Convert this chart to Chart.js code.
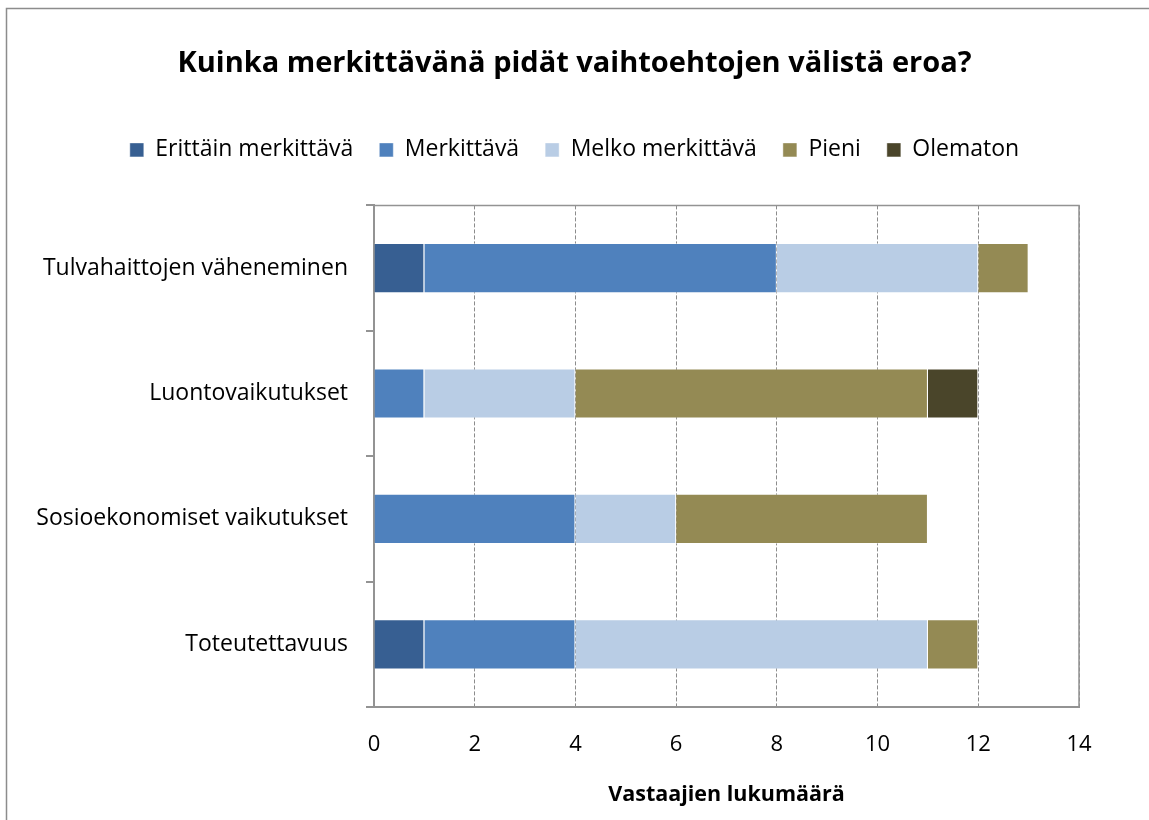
<!DOCTYPE html>
<html><head><meta charset="utf-8">
<script src="https://cdn.jsdelivr.net/npm/chart.js@4/dist/chart.umd.min.js"></script>
<style>html,body{margin:0;padding:0;background:#fff;}#wrap{width:1149px;height:820px;}</style>
</head><body><div id="wrap"><canvas id="c" width="1149" height="820"></canvas></div>
<script>
const categories = ["Tulvahaittojen väheneminen", "Luontovaikutukset", "Sosioekonomiset vaikutukset", "Toteutettavuus"];
const seriesNames = ["Erittäin merkittävä", "Merkittävä", "Melko merkittävä", "Pieni", "Olematon"];
const erittainMerkittava = [1, 0, 0, 1];
const merkittava = [7, 1, 4, 3];
const melkoMerkittava = [4, 3, 2, 7];
const pieni = [1, 7, 5, 1];
const olematon = [0, 1, 0, 0];
const xTicks = [0, 2, 4, 6, 8, 10, 12, 14];
const colors = ["#375F92", "#4F81BD", "#B9CDE5", "#948A54", "#4A452A"];
const FONT = '"Open Sans", "Noto Sans", sans-serif';

const seriesData = [erittainMerkittava, merkittava, melkoMerkittava, pieni, olematon];

const framePlugin = {
  id: 'frame',
  beforeDraw(chart) {
    const ctx = chart.ctx;
    ctx.save();
    ctx.fillStyle = '#fff';
    ctx.fillRect(0, 0, chart.width, chart.height);
    ctx.strokeStyle = '#8c8c8c';
    ctx.lineWidth = 1.5;
    ctx.strokeRect(6.5, 8.5, chart.width + 10, chart.height + 10);
    ctx.restore();
  },
  afterDatasetsDraw(chart) {
    const a = chart.chartArea, ctx = chart.ctx;
    ctx.save();
    ctx.setLineDash([]);
    ctx.strokeStyle = '#939393';
    ctx.lineWidth = 1.5;
    ctx.beginPath();
    ctx.moveTo(a.left, a.top);
    ctx.lineTo(a.right, a.top);
    ctx.lineTo(a.right, a.bottom);
    ctx.stroke();
    ctx.lineWidth = 2;
    ctx.beginPath();
    ctx.moveTo(a.left - 8, a.bottom);
    ctx.lineTo(a.right, a.bottom);
    ctx.stroke();
    ctx.restore();
  }
};

new Chart(document.getElementById('c'), {
  type: 'bar',
  data: {
    labels: categories,
    datasets: seriesNames.map((n, i) => ({
      label: n,
      data: seriesData[i],
      backgroundColor: colors[i],
      borderColor: 'rgba(255,255,255,0.45)',
      borderWidth: 1,
      barPercentage: 0.4,
      categoryPercentage: 1.0
    }))
  },
  options: {
    indexAxis: 'y',
    responsive: false,
    animation: false,
    layout: { padding: { left: 0, right: 0, top: 0, bottom: 0 } },
    plugins: {
      title: {
        display: true,
        text: 'Kuinka merkittävänä pidät vaihtoehtojen välistä eroa?',
        color: '#000',
        font: { family: FONT, size: 29, weight: 'bold' },
        padding: { top: 46.6, bottom: 31 },
        weight: 2000
      },
      subtitle: {
        display: true,
        text: ' ',
        font: { size: 10 },
        padding: { top: 0, bottom: 22 },
        weight: 500
      },
      legend: {
        position: 'top',
        weight: 1000,
        labels: {
          color: '#000',
          font: { family: FONT, size: 23 },
          boxWidth: 14, boxHeight: 14,
          padding: 26
        }
      },
      tooltip: { enabled: false }
    },
    scales: {
      x: {
        stacked: true,
        min: 0, max: 14,
        ticks: { stepSize: 2, color: '#000', font: { family: FONT, size: 22 }, padding: 25 },
        grid: { color: '#8c8c8c', lineWidth: 1, drawTicks: false },
        border: { color: '#939393', width: 2, dash: [4, 2] },
        title: { display: true, text: 'Vastaajien lukumäärä', color: '#000', font: { family: FONT, size: 21.5, weight: 'bold' }, padding: { top: 20, bottom: 12 } },
        afterFit(scale) { scale.height = 113; }
      },
      y: {
        stacked: true,
        position: 'left',
        ticks: { color: '#000', font: { family: FONT, size: 23 }, padding: 18 },
        grid: { drawOnChartArea: false, color: '#939393', lineWidth: 2, tickLength: 8, offset: true },
        border: { color: '#939393', width: 2 },
        afterFit(scale) { scale.width = 374; }
      },
      yRight: {
        type: 'category',
        position: 'right',
        display: true,
        ticks: { display: false },
        grid: { display: false, drawTicks: false },
        border: { display: false },
        afterFit(scale) { scale.width = 70; }
      }
    }
  },
  plugins: [framePlugin]
});
</script>
</body></html>
